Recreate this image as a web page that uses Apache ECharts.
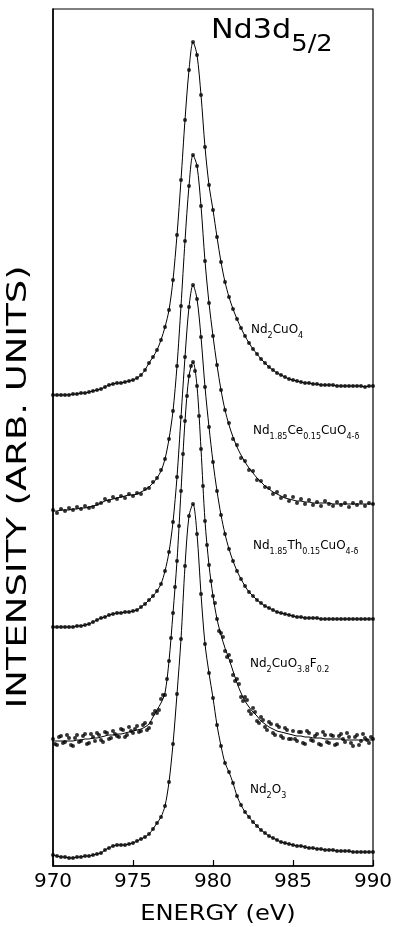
<!DOCTYPE html>
<html><head><meta charset="utf-8">
<script src="https://cdn.jsdelivr.net/npm/echarts/dist/echarts.min.js"></script>
<style>html,body{margin:0;padding:0;background:#fff}#c{width:394px;height:927px}</style>
</head><body><div id="c"></div>
<script>
// Energy grid: 970 eV to 990 eV, step 0.25 eV
const energyStart = 970;
const energyStep = 0.25;
const xTicks = [970, 975, 980, 985, 990];

// Intensities (arb. units) above each spectrum's own baseline
const nd2cuo4 = [0,0,0,0,0,1,1,2,2,3,4,5,6,8,10,11,12,12,13,14,15,17,20,25,32,38,45,55,68,85,115,160,215,275,325,353,340,300,248,210,185,158,133,113,98,86,76,67,59,52,46,41,36,32,28,25,22,20,18,16,15,14,13,12,12,11,11,10,10,10,10,9,9,9,9,9,9,9,8,9,9];

const ceFit = [0,0,1,1,1,2,2,3,3,4,5,6,8,10,11,12,13,14,15,16,16,17,19,21,24,28,33,40,52,72,100,145,205,270,325,356,345,305,250,208,175,146,121,101,86,74,64,56,49,43,38,33,29,25,22,19,17,15,13,12,11,10,10,9,9,8,8,8,8,8,7,7,7,7,7,7,7,7,7,7,7];
const ceDots = [1,-2,2,0,3,1,4,2,5,3,4,7,8,12,10,14,12,15,13,17,15,18,17,22,23,29,33,41,52,72,100,145,205,270,325,356,345,305,250,208,175,146,121,101,88,72,66,53,50,41,40,31,30,24,23,17,19,13,15,10,14,8,12,7,11,6,9,5,10,7,5,9,6,8,4,8,6,9,5,8,7];

const thSpec = [0,0,0,0,0,0,1,1,2,3,5,7,9,10,12,13,14,14,15,15,16,17,20,23,27,31,36,43,56,75,105,150,210,270,320,342,328,290,240,200,165,136,112,93,78,66,56,48,41,35,31,27,24,21,19,17,15,14,13,12,11,10,10,9,9,9,9,8,8,8,8,8,8,8,8,8,8,8,8,8,8];

const fFit = [0,0,0,0,0,0,1,1,2,2,3,3,4,5,6,6,7,7,8,9,10,11,12,14,17,24,31,38,48,80,128,180,250,320,365,379,355,292,220,176,145,122,106,93,82,70,58,48,40,34,29,25,20,17,14,12,10,9,8,7,6,5,5,4,4,3,3,3,2,2,2,2,2,1,1,1,1,1,1,1,1];
const fDots = [2,-4,5,-1,3,-5,6,0,7,-2,4,8,1,9,2,10,5,12,4,14,8,15,10,18,13,27,28,42,46,80,128,180,250,320,365,379,355,292,220,176,145,122,108,90,86,66,62,44,44,30,33,20,24,14,19,8,16,5,13,2,10,0,9,-3,8,0,7,-4,6,-2,5,-3,7,-1,4,-5,6,0,3,-2,2];
// second scan, shifted half a step (E + 0.125 eV)
const fDots2 = [-3,4,-2,6,-4,3,-1,5,-3,7,0,6,-1,8,3,7,4,11,6,10,12,9,16,11,18,30,31,46,62,103,154,215,287,345,375,370,325,255,196,160,138,110,104,84,80,60,57,40,41,27,29,18,21,11,17,6,14,3,11,2,2,9,-2,10,1,5,-3,9,-1,6,-4,5,2,8,-2,4,-4,7,1,4];

const nd2o3 = [1,0,-1,-1,-2,-2,-1,-1,0,0,1,2,3,6,8,10,11,11,11,12,13,15,17,19,22,27,33,39,50,74,112,162,217,290,340,352,322,262,212,183,158,131,110,93,84,73,60,51,44,39,34,30,26,23,20,18,16,14,13,12,11,10,10,9,8,8,7,7,6,6,6,5,5,5,5,4,4,4,4,4,4];

// vertical stacking offsets of the five spectra
const offsets = [471, 355, 239, 125, 10];

const energies = nd2cuo4.map((_, i) => energyStart + i * energyStep);
const energies2 = fDots2.map((_, i) => energyStart + energyStep / 2 + i * energyStep);

function pts(xs, vals, off) { return vals.map((v, i) => [xs[i], v + off]); }

const spectra = [
  { fit: nd2cuo4, dots: [[energies, nd2cuo4]] },
  { fit: ceFit, dots: [[energies, ceDots]] },
  { fit: thSpec, dots: [[energies, thSpec]] },
  { fit: fFit, dots: [[energies, fDots], [energies2, fDots2]] },
  { fit: nd2o3, dots: [[energies, nd2o3]] }
];

const series = [];
spectra.forEach((s, k) => {
  series.push({
    type: 'line', data: pts(energies, s.fit, offsets[k]), smooth: 0.3,
    showSymbol: false, symbol: 'none', lineStyle: { color: '#000', width: 1 }, z: 2, silent: true
  });
  s.dots.forEach(d => {
    series.push({
      type: 'scatter', data: pts(d[0], d[1], offsets[k]), symbolSize: 4,
      itemStyle: { color: '#000' }, z: 3, silent: true
    });
  });
});

const F = 'DejaVu Sans';
function lbl(text, left, top) {
  return {
    type: 'text', left: left, top: top,
    style: {
      text: text, fill: '#000',
      rich: {
        b: { fontSize: 12, fontFamily: F, lineHeight: 14, verticalAlign: 'top', fill: '#000' },
        s: { fontSize: 8, fontFamily: F, lineHeight: 8, padding: [8, 0, 0, 0], verticalAlign: 'top', fill: '#000' }
      }
    }
  };
}

const chart = echarts.init(document.getElementById('c'), null, { renderer: 'canvas' });
chart.setOption({
  animation: false,
  backgroundColor: '#fff',
  grid: { left: 53, right: 21, top: 9, bottom: 61, show: true, borderColor: '#000', borderWidth: 1.2, containLabel: false, outerBoundsMode: 'none' },
  xAxis: {
    type: 'value', min: 970, max: 990, interval: 5,
    axisLine: { show: true, lineStyle: { color: '#000', width: 1.5 } },
    axisTick: { show: true, inside: true, length: 6, lineStyle: { color: '#000', width: 1.2 } },
    axisLabel: { color: '#000', fontSize: 20, fontFamily: F, margin: 6, customValues: xTicks },
    splitLine: { show: false }
  },
  yAxis: {
    type: 'value', min: 0, max: 857,
    axisLine: { show: true, lineStyle: { color: '#000', width: 1.5 } },
    axisTick: { show: false }, axisLabel: { show: false }, splitLine: { show: false }
  },
  graphic: [
    {
      type: 'text', x: 211, y: 17, scaleX: 1.12,
      style: {
        x: 0, y: 0, align: 'left', verticalAlign: 'top',
        text: '{b|Nd3d}{s|5/2}',
        rich: {
          b: { fontSize: 27, fontFamily: F, lineHeight: 28, verticalAlign: 'top', fill: '#000' },
          s: { fontSize: 23, fontFamily: F, lineHeight: 23, padding: [17, 0, 0, 0], verticalAlign: 'top', fill: '#000' }
        }
      }
    },
    {
      type: 'text', x: 218, y: 915, scaleX: 1.15,
      style: { text: 'ENERGY (eV)', fill: '#000', fontSize: 21, fontFamily: F, align: 'center', verticalAlign: 'middle' }
    },
    {
      type: 'text', x: 19, y: 487, rotation: Math.PI / 2, scaleX: 1.42,
      style: { text: 'INTENSITY (ARB. UNITS)', fill: '#000', fontSize: 26, fontFamily: F, align: 'center', verticalAlign: 'middle' }
    },
    lbl('{b|Nd}{s|2}{b|CuO}{s|4}', 251, 324),
    lbl('{b|Nd}{s|1.85}{b|Ce}{s|0.15}{b|CuO}{s|4-δ}', 253, 425),
    lbl('{b|Nd}{s|1.85}{b|Th}{s|0.15}{b|CuO}{s|4-δ}', 253, 540),
    lbl('{b|Nd}{s|2}{b|CuO}{s|3.8}{b|F}{s|0.2}', 250, 658),
    lbl('{b|Nd}{s|2}{b|O}{s|3}', 250, 784)
  ],
  series: series
});
</script></body></html>
